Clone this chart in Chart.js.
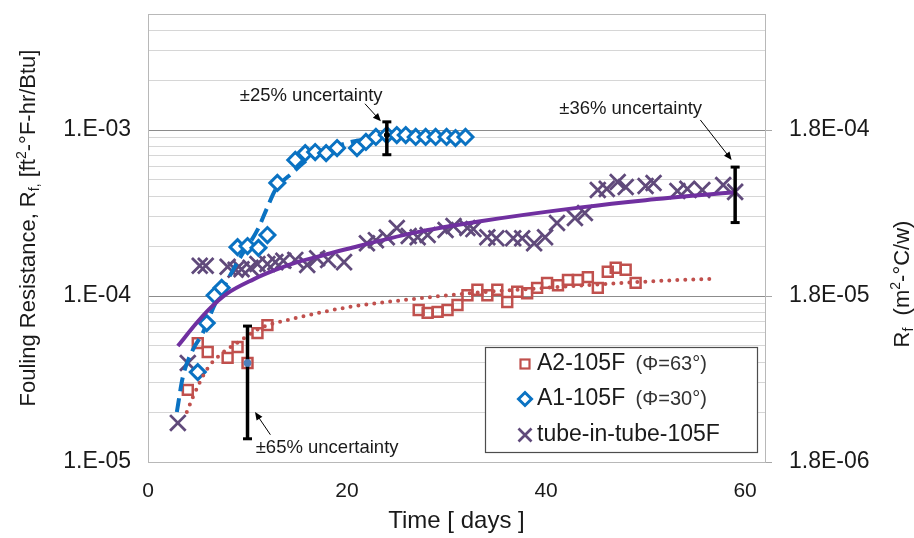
<!DOCTYPE html>
<html lang="en">
<head>
<meta charset="utf-8">
<title>Fouling resistance vs time</title>
<script src="https://cdn.jsdelivr.net/npm/chart.js@4/dist/chart.umd.min.js"></script>
<style>
  html, body { margin: 0; padding: 0; background: #ffffff; }
  #chartBox { width: 914px; height: 538px; }
</style>
</head>
<body>
<div id="chartBox"><canvas id="foulingChart" width="914" height="538"></canvas></div>
<script>
// ---- values: time in days, Rf in ft2-F-hr/Btu ----

// A2-105F (Phi=63 deg), red squares
const a2Days = [4.0, 5.0, 6.0, 8.0, 9.0, 10.0, 11.0, 12.0, 27.2, 28.1, 29.1, 30.1, 31.1, 32.1, 33.1,
  34.1, 35.1, 36.1, 37.1, 38.1, 39.1, 40.1, 41.2, 42.2, 43.2, 44.2, 45.2, 46.2, 47.0, 48.0, 49.0];
const a2Values = [2.72e-5, 5.2e-5, 4.6e-5, 4.24e-5, 4.93e-5, 3.95e-5, 5.98e-5, 6.68e-5, 8.24e-5, 7.91e-5,
  8.02e-5, 8.24e-5, 8.83e-5, 1.01e-4, 1.09e-4, 1.01e-4, 1.09e-4, 9.2e-5, 1.06e-4, 1.04e-4, 1.12e-4,
  1.2e-4, 1.16e-4, 1.25e-4, 1.25e-4, 1.30e-4, 1.12e-4, 1.40e-4, 1.48e-4, 1.44e-4, 1.2e-4];
// dotted trend through A2
const a2TrendDays = [3.9, 4.5, 5.9, 7.2, 8.9, 11.3, 14.6, 20.3, 26.0, 32.4, 40.0, 45.8, 52.2, 57.0];
const a2TrendValues = [2.0e-5, 2.45e-5, 3.6e-5, 4.4e-5, 5.2e-5, 6.4e-5, 7.3e-5, 8.6e-5, 9.5e-5,
  1.04e-4, 1.12e-4, 1.18e-4, 1.24e-4, 1.27e-4];

// A1-105F (Phi=30 deg), blue diamonds
const a1Days = [5.0, 5.9, 6.7, 7.4, 9.0, 10.0, 11.1, 12.0, 13.0, 14.8, 15.8, 16.8, 17.9, 19.0, 21.0,
  21.9, 22.9, 24.0, 25.0, 25.9, 26.9, 27.9, 28.9, 30.0, 30.9, 31.9];
const a1Values = [3.48e-5, 6.87e-5, 1.01e-4, 1.12e-4, 1.97e-4, 2.0e-4, 1.95e-4, 2.33e-4, 4.8e-4, 6.6e-4,
  7.26e-4, 7.37e-4, 7.26e-4, 7.79e-4, 7.79e-4, 8.47e-4, 9.08e-4, 9.33e-4, 9.33e-4, 9.33e-4, 9.08e-4,
  9.08e-4, 9.08e-4, 9.08e-4, 8.95e-4, 9.08e-4];
// dashed trend through A1
const a1TrendDays = [2.9, 3.5, 4.5, 5.5, 6.6, 8.0, 9.3, 11.0, 12.0, 12.8, 14.6, 16.0, 18.0, 20.0, 22.0,
  24.0, 28.0, 32.0];
const a1TrendValues = [2.0e-5, 3.25e-5, 4.73e-5, 5.98e-5, 8.59e-5, 1.25e-4, 1.72e-4, 2.5e-4, 3.43e-4,
  4.36e-4, 5.58e-4, 6.6e-4, 7.6e-4, 8.35e-4, 8.83e-4, 9.07e-4, 9.2e-4, 9.3e-4];

// tube-in-tube-105F, purple crosses
const tubeDays = [3.0, 4.0, 5.2, 5.8, 8.0, 8.8, 9.4, 10.3, 11.0, 12.0, 12.8, 13.6, 14.8, 16.0, 17.0,
  18.1, 19.7, 22.0, 22.9, 24.0, 25.0, 26.2, 27.1, 28.1, 29.9, 30.7, 32.1, 32.7, 34.1, 35.0, 36.7,
  37.6, 38.8, 39.9, 41.1, 42.9, 43.9, 45.2, 46.1, 47.2, 48.0, 50.0, 50.8, 53.2, 54.2, 55.7, 57.8, 59.0];
const tubeValues = [1.72e-5, 3.95e-5, 1.52e-4, 1.52e-4, 1.5e-4, 1.44e-4, 1.45e-4, 1.48e-4, 1.56e-4,
  1.56e-4, 1.6e-4, 1.63e-4, 1.65e-4, 1.54e-4, 1.69e-4, 1.65e-4, 1.6e-4, 2.08e-4, 2.17e-4, 2.26e-4,
  2.57e-4, 2.3e-4, 2.26e-4, 2.33e-4, 2.5e-4, 2.64e-4, 2.57e-4, 2.53e-4, 2.26e-4, 2.23e-4, 2.23e-4,
  2.23e-4, 2.08e-4, 2.26e-4, 2.75e-4, 2.95e-4, 3.16e-4, 4.35e-4, 4.42e-4, 4.86e-4, 4.54e-4, 4.6e-4,
  4.8e-4, 4.29e-4, 4.42e-4, 4.35e-4, 4.66e-4, 4.24e-4];
// solid trend through tube-in-tube
const tubeTrendDays = [3.0, 4.9, 6.2, 7.9, 10.6, 12.6, 15.0, 17.6, 20.0, 26.7, 33.4, 43.5, 50.0, 58.9];
const tubeTrendValues = [5.0e-5, 6.9e-5, 8.4e-5, 1.03e-4, 1.26e-4, 1.42e-4, 1.6e-4, 1.76e-4, 1.92e-4,
  2.4e-4, 2.82e-4, 3.42e-4, 3.78e-4, 4.22e-4];

// uncertainty bars: A2 at day 10, A1 at day 24, tube at day 59
const errDays = [10.0, 24.0, 59.0];
const errLow = [1.38e-5, 7.1e-4, 2.77e-4];
const errMid = [3.95e-5, 9.33e-4, 4.24e-4];
const errHigh = [6.59e-5, 1.12e-3, 5.98e-4];
const errNotes = ['±65% uncertainty', '±25% uncertainty', '±36% uncertainty'];

// axes
const xTickValues = [0, 20, 40, 60];
const yMajorTicks = [1e-5, 1e-4, 1e-3];
const yMajorLabels = ['1.E-05', '1.E-04', '1.E-03'];
const y2MajorTicks = [1.8e-6, 1.8e-5, 1.8e-4];
const y2MajorLabels = ['1.8E-06', '1.8E-05', '1.8E-04'];
const gridMantissas = [1, 2, 3, 4, 5, 6, 7, 8, 9];
const seriesNames = ['A2-105F', 'A1-105F', 'tube-in-tube-105F'];
const seriesNotes = ['(Φ=63°)', '(Φ=30°)', ''];

const X_MAX = 62;
const Y_MIN = 1e-5, Y_MAX = 5e-3;
const Y2_MIN = 1.8e-6, Y2_MAX = 9e-4;

const FONT = '"Liberation Sans", Arial, sans-serif';
const RED = '#c0504d';
const BLUE = '#0a72c2';
const PURPLE_X = '#604a7b';
const PURPLE_LINE = '#7030a0';
const TEXT = '#1a1a1a';

function toPoints(xs, ys) {
    return xs.map((x, i) => ({ x: x, y: ys[i] }));
}

function logGrid(majors, top) {
    const list = [];
    majors.forEach(base => {
        gridMantissas.forEach(m => {
            const v = m * base;
            if (v <= top * 1.0001) list.push({ value: v, major: m === 1 });
        });
    });
    return list;
}

function majorLabel(value, majors, labels) {
    const i = majors.findIndex(t => Math.abs(t - value) / t < 1e-6);
    return i >= 0 ? labels[i] : '';
}

function errorBarData(i) {
    return [
        { x: errDays[i], y: errLow[i] },
        { x: errDays[i], y: errMid[i] },
        { x: errDays[i], y: errHigh[i] }
    ];
}

function errorBarSet(i, midColor, midRadius) {
    return {
        label: 'err' + i,
        data: errorBarData(i),
        showLine: true,
        borderColor: '#000',
        borderWidth: 3.5,
        pointStyle: ['line', 'circle', 'line'],
        pointRadius: [4.5, midRadius, 4.5],
        pointBorderWidth: [3, 1, 3],
        pointBorderColor: ['#000', midColor, '#000'],
        pointBackgroundColor: ['#000', midColor, '#000'],
        order: 0
    };
}

// text with sub/superscripts, optionally rotated
function drawRich(ctx, parts, cx, cy, angle) {
    ctx.save();
    ctx.translate(cx, cy);
    ctx.rotate(angle);
    ctx.textBaseline = 'middle';
    ctx.textAlign = 'left';
    ctx.fillStyle = TEXT;
    let total = 0;
    parts.forEach(p => {
        ctx.font = p.size + 'px ' + FONT;
        p.w = ctx.measureText(p.text).width;
        total += p.w;
    });
    let x = -total / 2;
    parts.forEach(p => {
        ctx.font = p.size + 'px ' + FONT;
        ctx.fillText(p.text, x, p.dy || 0);
        x += p.w;
    });
    ctx.restore();
}

function drawArrow(ctx, x1, y1, x2, y2) {
    const ang = Math.atan2(y2 - y1, x2 - x1);
    ctx.save();
    ctx.strokeStyle = '#000';
    ctx.fillStyle = '#000';
    ctx.lineWidth = 1;
    ctx.beginPath();
    ctx.moveTo(x1, y1);
    ctx.lineTo(x2 - 6 * Math.cos(ang), y2 - 6 * Math.sin(ang));
    ctx.stroke();
    ctx.beginPath();
    ctx.moveTo(x2, y2);
    ctx.lineTo(x2 - 8 * Math.cos(ang) + 3.5 * Math.sin(ang), y2 - 8 * Math.sin(ang) - 3.5 * Math.cos(ang));
    ctx.lineTo(x2 - 8 * Math.cos(ang) - 3.5 * Math.sin(ang), y2 - 8 * Math.sin(ang) + 3.5 * Math.cos(ang));
    ctx.closePath();
    ctx.fill();
    ctx.restore();
}

// annotation anchors in data units (day, Rf)
const noteAnchors = [
    { at: [18.0, 1.21e-5], from: [12.3, 1.46e-5], to: [10.75, 2.0e-5] },
    { at: [16.4, 1.6e-3], from: [21.8, 1.44e-3], to: [23.4, 1.13e-3] },
    { at: [48.5, 1.34e-3], from: [55.5, 1.15e-3], to: [58.65, 6.6e-4] }
];

const plotFrame = {
    id: 'plotFrame',
    beforeDatasetsDraw(chart) {
        const { ctx, chartArea: a } = chart;
        ctx.save();
        ctx.strokeStyle = '#b8b8b8';
        ctx.lineWidth = 1;
        ctx.strokeRect(a.left + 0.5, a.top + 0.5, a.right - a.left, a.bottom - a.top);
        ctx.restore();
    }
};

const notesPlugin = {
    id: 'notes',
    afterDatasetsDraw(chart) {
        const ctx = chart.ctx;
        const xs = chart.scales.x, ys = chart.scales.y;
        const px = p => [xs.getPixelForValue(p[0]), ys.getPixelForValue(p[1])];
        noteAnchors.forEach((n, i) => {
            const at = px(n.at);
            ctx.save();
            ctx.font = '18.5px ' + FONT;
            ctx.fillStyle = TEXT;
            ctx.textAlign = 'center';
            ctx.textBaseline = 'middle';
            ctx.fillText(errNotes[i], at[0], at[1]);
            ctx.restore();
            const a = px(n.from), b = px(n.to);
            drawArrow(ctx, a[0], a[1], b[0], b[1]);
        });
    }
};

const boxLegend = {
    id: 'boxLegend',
    afterDatasetsDraw(chart) {
        const ctx = chart.ctx;
        const box = { x: 485, y: 347, w: 272, h: 105 };
        const rows = [364, 399, 435];
        const mx = 525, tx = 537;
        ctx.save();
        ctx.fillStyle = '#fff';
        ctx.fillRect(box.x, box.y, box.w, box.h);
        ctx.strokeStyle = '#4d4d4d';
        ctx.lineWidth = 1.2;
        ctx.strokeRect(box.x + 0.5, box.y + 0.5, box.w, box.h);

        // markers
        ctx.lineWidth = 2.2;
        ctx.strokeStyle = RED;
        ctx.strokeRect(mx - 4.5, rows[0] - 4.5, 9, 9);
        ctx.lineWidth = 3;
        ctx.strokeStyle = BLUE;
        ctx.beginPath();
        ctx.moveTo(mx - 6.5, rows[1]);
        ctx.lineTo(mx, rows[1] - 6.5);
        ctx.lineTo(mx + 6.5, rows[1]);
        ctx.lineTo(mx, rows[1] + 6.5);
        ctx.closePath();
        ctx.stroke();
        ctx.lineWidth = 2.7;
        ctx.strokeStyle = PURPLE_X;
        ctx.beginPath();
        ctx.moveTo(mx - 6.5, rows[2] - 6.5);
        ctx.lineTo(mx + 6.5, rows[2] + 6.5);
        ctx.moveTo(mx + 6.5, rows[2] - 6.5);
        ctx.lineTo(mx - 6.5, rows[2] + 6.5);
        ctx.stroke();

        ctx.textBaseline = 'middle';
        ctx.textAlign = 'left';
        seriesNames.forEach((name, i) => {
            ctx.font = '23px ' + FONT;
            ctx.fillStyle = TEXT;
            ctx.fillText(name, tx, rows[i]);
            if (seriesNotes[i]) {
                const w = ctx.measureText(name + ' ').width;
                ctx.font = '20px ' + FONT;
                ctx.fillStyle = '#333';
                ctx.fillText(seriesNotes[i], tx + w + 4, rows[i]);
            }
        });
        ctx.restore();
    }
};

const axisTitles = {
    id: 'axisTitles',
    afterDraw(chart) {
        const ctx = chart.ctx;
        drawRich(ctx, [
            { text: 'Fouling Resistance, R', size: 22 },
            { text: 'f,', size: 14, dy: 6 },
            { text: ' [ft', size: 22 },
            { text: '2', size: 14, dy: -7 },
            { text: '-°F-hr/Btu]', size: 22 }
        ], 29, 228, -Math.PI / 2);
        drawRich(ctx, [
            { text: 'R', size: 22 },
            { text: 'f', size: 14, dy: 6 },
            { text: '  (m', size: 22 },
            { text: '2', size: 14, dy: -7 },
            { text: '-°C/w)', size: 22 }
        ], 903, 284, -Math.PI / 2);
    }
};

const yGrid = logGrid(yMajorTicks, Y_MAX);
const y2Grid = logGrid(y2MajorTicks, Y2_MAX);

// keep the plot box where the original has it
function fixVertical(width) {
    return s => { s.width = width; s.paddingTop = 0; s.paddingBottom = 0; };
}

const ctx = document.getElementById('foulingChart').getContext('2d');
new Chart(ctx, {
    type: 'scatter',
    data: {
        datasets: [
            {
                label: seriesNames[0],
                data: toPoints(a2Days, a2Values),
                pointStyle: 'rect',
                pointRadius: 7,
                pointBorderWidth: 2.5,
                pointBorderColor: RED,
                pointBackgroundColor: 'rgba(255,255,255,0)',
                order: 5
            },
            {
                label: seriesNames[1],
                data: toPoints(a1Days, a1Values),
                pointStyle: 'rectRot',
                pointRadius: 7.5,
                pointBorderWidth: 3,
                pointBorderColor: BLUE,
                pointBackgroundColor: '#ffffff',
                order: 3
            },
            {
                label: seriesNames[2],
                data: toPoints(tubeDays, tubeValues),
                pointStyle: 'crossRot',
                pointRadius: 11,
                pointBorderWidth: 2.8,
                pointBorderColor: PURPLE_X,
                order: 5
            },
            {
                label: 'A2 trend',
                data: toPoints(a2TrendDays, a2TrendValues),
                showLine: true,
                pointRadius: 0,
                borderColor: RED,
                borderWidth: 4,
                borderDash: [0, 8],
                borderCapStyle: 'round',
                cubicInterpolationMode: 'monotone',
                order: 2
            },
            {
                label: 'A1 trend',
                data: toPoints(a1TrendDays, a1TrendValues),
                showLine: true,
                pointRadius: 0,
                borderColor: BLUE,
                borderWidth: 4,
                borderDash: [14, 7],
                cubicInterpolationMode: 'monotone',
                order: 4
            },
            {
                label: 'tube trend',
                data: toPoints(tubeTrendDays, tubeTrendValues),
                showLine: true,
                pointRadius: 0,
                borderColor: PURPLE_LINE,
                borderWidth: 4,
                cubicInterpolationMode: 'monotone',
                order: 1
            },
            errorBarSet(0, '#4f81bd', 3.5),
            errorBarSet(1, '#000', 2.5),
            errorBarSet(2, '#000', 0)
        ]
    },
    options: {
        responsive: false,
        animation: false,
        devicePixelRatio: 1,
        layout: { padding: { top: 14, left: 0, right: 0, bottom: 0 } },
        plugins: {
            legend: { display: false },
            tooltip: { enabled: false }
        },
        scales: {
            x: {
                type: 'linear',
                min: 0,
                max: X_MAX,
                afterFit: s => { s.height = 76; s.paddingLeft = 0; s.paddingRight = 0; },
                afterBuildTicks: s => { s.ticks = xTickValues.map(v => ({ value: v })); },
                grid: { display: false, drawTicks: false },
                border: { display: true, color: '#a6a6a6', width: 1 },
                ticks: {
                    autoSkip: false,
                    maxRotation: 0,
                    padding: 17,
                    color: TEXT,
                    font: { family: FONT, size: 21 }
                },
                title: {
                    display: true,
                    text: 'Time [ days ]',
                    color: TEXT,
                    font: { family: FONT, size: 24 },
                    padding: { top: 0, bottom: 2 }
                }
            },
            y: {
                type: 'logarithmic',
                position: 'left',
                min: Y_MIN,
                max: Y_MAX,
                afterFit: fixVertical(148),
                afterBuildTicks: s => { s.ticks = yGrid.map(g => ({ value: g.value, major: g.major })); },
                grid: {
                    drawTicks: false,
                    lineWidth: 1,
                    color: c => (c.tick && c.tick.major) ? '#8c8c8c' : '#d6d6d6'
                },
                border: { display: true, color: '#a6a6a6', width: 1 },
                ticks: {
                    autoSkip: false,
                    padding: 17,
                    color: TEXT,
                    font: { family: FONT, size: 23 },
                    callback: v => majorLabel(v, yMajorTicks, yMajorLabels)
                }
            },
            y2: {
                type: 'logarithmic',
                position: 'right',
                min: Y2_MIN,
                max: Y2_MAX,
                afterFit: fixVertical(149),
                afterBuildTicks: s => { s.ticks = y2Grid.map(g => ({ value: g.value, major: g.major })); },
                grid: {
                    drawOnChartArea: false,
                    drawTicks: true,
                    tickLength: 7,
                    tickColor: c => (c.tick && c.tick.major) ? '#a6a6a6' : 'rgba(0,0,0,0)'
                },
                border: { display: true, color: '#a6a6a6', width: 1 },
                ticks: {
                    autoSkip: false,
                    padding: 17,
                    color: TEXT,
                    font: { family: FONT, size: 23 },
                    callback: v => majorLabel(v, y2MajorTicks, y2MajorLabels)
                }
            }
        }
    },
    plugins: [plotFrame, notesPlugin, boxLegend, axisTitles]
});
</script>
</body>
</html>
